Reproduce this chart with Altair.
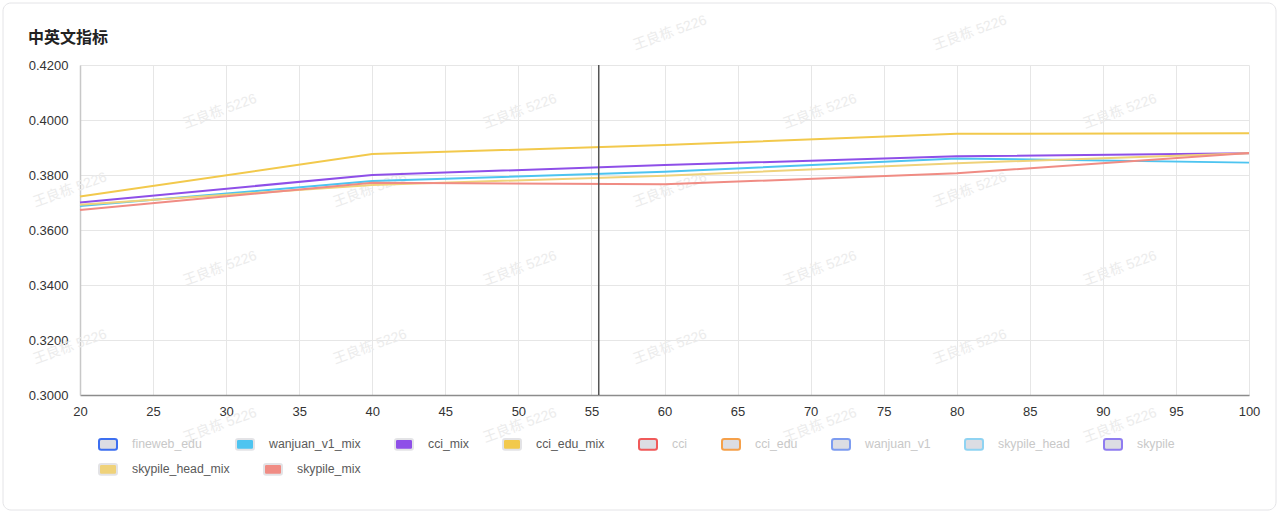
import altair as alt
import pandas as pd

# ---------------- data ----------------
steps = [20, 40, 60, 80, 100]
wanjuan_v1_mix = [0.3687, 0.3778, 0.3812, 0.3860, 0.3845]
cci_mix = [0.3700, 0.3800, 0.3836, 0.3868, 0.3879]
cci_edu_mix = [0.3722, 0.3876, 0.3909, 0.3950, 0.3952]
skypile_head_mix = [0.3692, 0.3764, 0.3797, 0.3843, 0.3879]
skypile_mix = [0.3673, 0.3772, 0.3766, 0.3806, 0.3880]

line_names = ["wanjuan_v1_mix", "cci_mix", "cci_edu_mix", "skypile_head_mix", "skypile_mix"]
line_values = [wanjuan_v1_mix, cci_mix, cci_edu_mix, skypile_head_mix, skypile_mix]
line_colors = ["#4dc4f0", "#8e4fe8", "#f2c94c", "#efd27a", "#f08c84"]

legend_row1 = ["fineweb_edu", "wanjuan_v1_mix", "cci_mix", "cci_edu_mix", "cci", "cci_edu",
               "wanjuan_v1", "skypile_head", "skypile"]
legend_row1_fill = ["#dcdde3", "#4dc4f0", "#8e4fe8", "#f2c94c", "#dcdde3", "#dcdde3",
                    "#dcdde3", "#dcdde3", "#dcdde3"]
legend_row1_stroke = ["#3d6ff0", "#e3e3e6", "#e3e3e6", "#e3e3e6", "#f05a5a", "#f5a04a",
                      "#7d9cf0", "#8fd3f2", "#8f7cf0"]
legend_row2 = ["skypile_head_mix", "skypile_mix"]
legend_row2_fill = ["#efd27a", "#f08c84"]
legend_row2_stroke = ["#e3e3e6", "#e3e3e6"]
inactive_names = ["fineweb_edu", "cci", "cci_edu", "wanjuan_v1", "skypile_head", "skypile"]

x_ticks = [20, 25, 30, 35, 40, 45, 50, 55, 60, 65, 70, 75, 80, 85, 90, 95, 100]
y_ticks = [0.30, 0.32, 0.34, 0.36, 0.38, 0.40, 0.42]
crosshair_x = [55.5]

title_text = "中英文指标"
watermark_text = "王良栋 5226"

# ---------------- tables ----------------
rows = []
for name, vals in zip(line_names, line_values):
    for s, v in zip(steps, vals):
        rows.append({"series": name, "step": s, "value": v})
df = pd.DataFrame(rows)

W, H = 1169, 330
X_DOM = [20, 100]
Y_DOM = [0.30, 0.42]

# watermark grid (decoration), pixel grid converted to data units
wm = []
for i in range(7):
    py = 33 + 78.5 * i
    x0 = 70 if i % 2 == 0 else 220
    for j in range(5):
        px = x0 + 300 * j
        if i == 0 and px < 600:
            continue
        if px > 1262 or py > 500:
            continue
        wm.append({
            "wx": X_DOM[0] + (px - 80) * (X_DOM[1] - X_DOM[0]) / W,
            "wy": Y_DOM[1] - (py - 65) * (Y_DOM[1] - Y_DOM[0]) / H,
            "t": watermark_text,
        })
wm_df = pd.DataFrame(wm)

FONT = "Liberation Sans, Noto Sans CJK SC"

x_scale = alt.Scale(domain=X_DOM, nice=False, zero=False)
y_scale = alt.Scale(domain=Y_DOM, nice=False, zero=False)

# card border
card = alt.Chart(pd.DataFrame({"k": [0]})).mark_rect(
    fill="transparent", stroke="#e4e4e7", strokeWidth=1, cornerRadius=8
).encode(x=alt.value(-77), x2=alt.value(1196), y=alt.value(-62), y2=alt.value(445))

title = alt.Chart(pd.DataFrame({"t": [title_text]})).mark_text(
    align="left", baseline="middle", fontSize=16, fontWeight="bold",
    color="#222222", font="Noto Sans CJK SC"
).encode(x=alt.value(-52), y=alt.value(-27), text="t:N")

watermark = alt.Chart(wm_df).mark_text(
    angle=340, fontSize=14, color="#ececec", font=FONT
).encode(
    x=alt.X("wx:Q", scale=x_scale),
    y=alt.Y("wy:Q", scale=y_scale),
    text="t:N",
)

lines = alt.Chart(df).mark_line(strokeWidth=2).encode(
    x=alt.X("step:Q", scale=x_scale,
            axis=alt.Axis(values=x_ticks, format="d", title=None, ticks=False,
                          labelPadding=10, labelFontSize=13, labelColor="#333",
                          labelFont=FONT, domainColor="#8c8c8c", domainWidth=1.5,
                          gridColor="#e6e6e6", labelFlush=False)),
    y=alt.Y("value:Q", scale=y_scale,
            axis=alt.Axis(values=y_ticks, format=".4f", title=None, ticks=False,
                          labelPadding=12, labelFontSize=13, labelColor="#333",
                          labelFont=FONT, domainColor="#c8c8c8", domainWidth=1.5,
                          gridColor="#e6e6e6")),
    color=alt.Color("series:N", scale=alt.Scale(domain=line_names, range=line_colors), legend=None),
)

crosshair = alt.Chart(pd.DataFrame({"x": crosshair_x})).mark_rule(
    color="#555555", strokeWidth=1.5
).encode(x=alt.X("x:Q", scale=x_scale))

sym_path = ("M-0.75,-0.6 L0.75,-0.6 Q1,-0.6 1,-0.35 L1,0.35 Q1,0.6 0.75,0.6 "
            "L-0.75,0.6 Q-1,0.6 -1,0.35 L-1,-0.35 Q-1,-0.6 -0.75,-0.6 Z")

inactive_js = "[" + ",".join("'" + n + "'" for n in inactive_names) + "]"


def make_legend(ly, cols):
    return alt.Legend(
        title=None, orient="none", legendX=18, legendY=ly, direction="horizontal",
        columns=cols, symbolType=sym_path, symbolSize=324,
        symbolStrokeWidth=2, symbolOpacity=1, labelFontSize=12.3, labelFont=FONT,
        labelOffset=14, columnPadding=30, labelLimit=300,
        labelColor={"expr": "indexof(" + inactive_js + ", datum.label) >= 0 ? '#c8c8c8' : '#5a5a5a'"},
    )


def legend_layer(names, fills, strokes, ly):
    leg = make_legend(ly, len(names))
    return alt.Chart(pd.DataFrame({"name": names})).transform_filter(
        alt.datum.name == "__none__"
    ).mark_point(filled=True, shape=sym_path, opacity=1).encode(
        x=alt.value(0), y=alt.value(0),
        fill=alt.Fill("name:N", scale=alt.Scale(domain=names, range=fills), legend=leg),
        stroke=alt.Stroke("name:N", scale=alt.Scale(domain=names, range=strokes), legend=leg),
    )


legend1 = legend_layer(legend_row1, legend_row1_fill, legend_row1_stroke, 369)
legend2 = legend_layer(legend_row2, legend_row2_fill, legend_row2_stroke, 394)

chart = alt.layer(card, watermark, title, lines, crosshair, legend1, legend2).resolve_scale(
    fill="independent", stroke="independent"
).resolve_legend(
    fill="independent", stroke="independent"
).properties(
    width=W, height=H,
    autosize=alt.AutoSizeParams(type="none"),
    padding={"left": 80, "top": 65, "right": 31, "bottom": 119},
    background="white",
).configure_view(stroke=None)

chart.save("out.html", embed_options={"renderer": "svg", "actions": False})
